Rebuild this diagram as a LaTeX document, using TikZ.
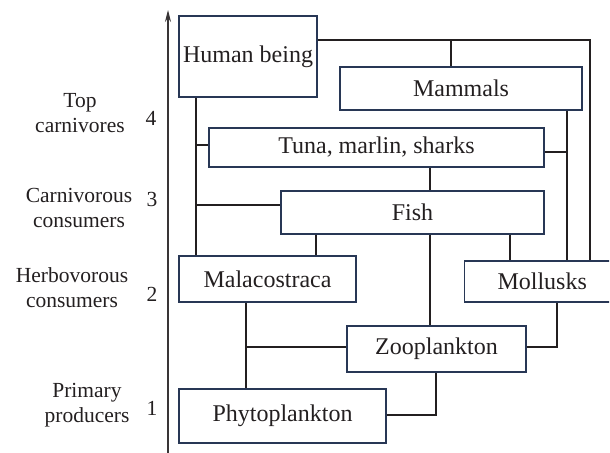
\documentclass[tikz,border=0pt]{standalone}
\usepackage{fontspec}
\setmainfont{Liberation Serif}
\usetikzlibrary{arrows.meta}
\definecolor{boxline}{RGB}{40,55,85}
\definecolor{inkgray}{RGB}{35,31,32}

\tikzset{
  trophic box/.style={draw=boxline, line width=0.55pt, inner sep=0pt, text=inkgray,
    font=\fontsize{12}{14}\selectfont},
  level label/.style={align=center, text=inkgray, font=\fontsize{10.75}{12.5}\selectfont},
  level num/.style={text=inkgray, font=\fontsize{10.75}{12.5}\selectfont},
  link/.style={line width=0.7pt, draw=inkgray}
}

\begin{document}
\begin{tikzpicture}[x=0.5pt, y=-0.5pt]
        \useasboundingbox (0,0) rectangle (610,453);
        \clip (0,0) rectangle (609,453);

        % Axis
        \draw[-{Stealth[length=6pt,width=3pt]}, line width=0.6pt, draw=inkgray!90] (168,453) -- (168,10);

        % Levels
        \node[level label] (lbl4) at (80,113) {Top\\carnivores};
        \node[level label] (lbl3) at (79,208) {Carnivorous\\consumers};
        \node[level label] (lbl2) at (72,288) {Herbovorous\\consumers};
        \node[level label] (lbl1) at (87,405) {Primary\\producers};
        \node[level num] (num4) at (151,118) {4};
        \node[level num] (num3) at (152,199) {3};
        \node[level num] (num2) at (152,294) {2};
        \node[level num] (num1) at (152,408) {1};

        % NODES
        \node[trophic box, minimum width=69pt, minimum height=40.5pt] (human) at (248,56.5) {Human being};
        \node[trophic box, minimum width=121pt, minimum height=21.5pt] (mammals) at (461,88.5) {Mammals};
        \node[trophic box, minimum width=167.5pt, minimum height=19.5pt] (tuna) at (376.5,147.5) {Tuna, marlin, sharks};
        \node[trophic box, minimum width=131.5pt, minimum height=21.5pt] (fish) at (412.5,212.5) {Fish};
        \node[trophic box, minimum width=88.5pt, minimum height=23pt] (malaco) at (267.5,279) {Malacostraca};
        \node[trophic box, anchor=west, inner xsep=16.5pt, text width=70pt, align=left,
              minimum height=20.5pt] (mollusks) at (464,281.5) {Mollusks};
        \node[trophic box, minimum width=89.5pt, minimum height=23pt] (zoo) at (436.5,349) {Zooplankton};
        \node[trophic box, minimum width=103.5pt, minimum height=27pt] (phyto) at (282.5,416) {Phytoplankton};

        % Junctions
        \coordinate (topR) at (590,40);
        \coordinate (topM) at (451,40);
        \coordinate (midR) at (567,152);
        \coordinate (humL) at (196,145);
        \coordinate (fishL) at (196,205);
        \coordinate (fishC) at (430,0);
        \coordinate (fishA) at (316,0);
        \coordinate (fishB) at (510,0);
        \coordinate (zooL) at (246,347);
        \coordinate (zooR) at (557,347);
        \coordinate (phyR) at (436,415);

        % Links
        \draw[link] (human.east |- topR) -- (topR) -- (topR |- mollusks.north);
        \draw[link] (topM) -- (topM |- mammals.north);
        \draw[link] (mammals.south -| midR) -- (midR |- mollusks.north);
        \draw[link] (tuna.east |- midR) -- (midR);
        \draw[link] (human.south -| humL) -- (humL |- malaco.north);
        \draw[link] (humL) -- (tuna.west |- humL);
        \draw[link] (fishL) -- (fish.west |- fishL);
        \draw[link] (tuna.south -| fishC) -- (fish.north -| fishC);
        \draw[link] (fish.south -| fishC) -- (zoo.north -| fishC);
        \draw[link] (fish.south -| fishA) -- (malaco.north -| fishA);
        \draw[link] (fish.south -| fishB) -- (mollusks.north -| fishB);
        \draw[link] (malaco.south -| zooL) -- (phyto.north -| zooL);
        \draw[link] (zooL) -- (zoo.west |- zooL);
        \draw[link] (zoo.east |- zooR) -- (zooR) -- (zooR |- mollusks.south);
        \draw[link] (phyto.east |- phyR) -- (phyR) -- (zoo.south -| phyR);

    \end{tikzpicture}
\end{document}
